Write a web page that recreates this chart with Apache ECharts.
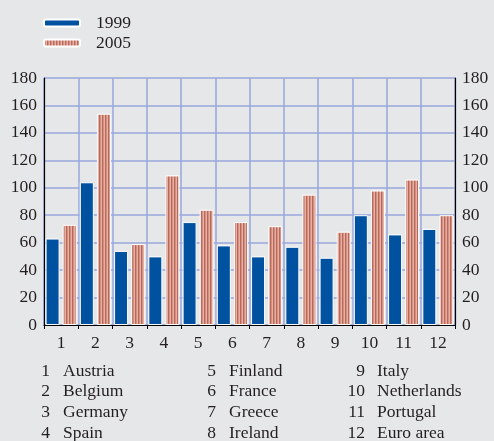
<!DOCTYPE html>
<html>
<head>
<meta charset="utf-8">
<script src="https://cdn.jsdelivr.net/npm/echarts@6/dist/echarts.min.js"></script>
<style>
  html, body { margin: 0; padding: 0; background: #e6e7e9; }
  #chart { width: 494px; height: 441px; }
</style>
</head>
<body>
<div id="chart"></div>
<script>
// Data
const categories = ['1', '2', '3', '4', '5', '6', '7', '8', '9', '10', '11', '12'];
const values1999 = [63, 104, 54, 50, 75, 58, 50, 57, 49, 80, 66, 70];
const values2005 = [73, 154, 59, 109, 84, 75, 72, 95, 68, 98, 106, 80];
const countryNames = ['Austria', 'Belgium', 'Germany', 'Spain', 'Finland', 'France',
    'Greece', 'Ireland', 'Italy', 'Netherlands', 'Portugal', 'Euro area'];
const seriesNames = ['1999', '2005'];

const FONT = '"Liberation Serif", "DejaVu Serif", serif';
const TEXT = '#231f20';
const FS = 17.5;

// vertical stripe pattern for the 2005 bars
function stripePattern() {
    const c = document.createElement('canvas');
    c.width = 3;
    c.height = 4;
    const ctx = c.getContext('2d');
    const cols = ['#b9685c', '#d4907f', '#e6b0a4'];
    cols.forEach((col, i) => {
        ctx.fillStyle = col;
        ctx.fillRect(i, 0, 1, 4);
    });
    return { image: c, repeat: 'repeat' };
}

// country key under the chart (three columns)
function buildKey() {
    const cols = [
        { numRight: 50, nameLeft: 63 },
        { numRight: 216, nameLeft: 229 },
        { numRight: 365, nameLeft: 377 }
    ];
    const items = [];
    countryNames.forEach((name, i) => {
        const col = cols[Math.floor(i / 4)];
        const y = 371 + (i % 4) * 20.8;
        items.push({
            type: 'text', x: col.numRight, y: y,
            style: { text: categories[i], font: FS + 'px ' + FONT, fill: TEXT, align: 'right', verticalAlign: 'middle' }
        });
        items.push({
            type: 'text', x: col.nameLeft, y: y,
            style: { text: name, font: FS + 'px ' + FONT, fill: TEXT, align: 'left', verticalAlign: 'middle' }
        });
    });
    return items;
}

const chart = echarts.init(document.getElementById('chart'));

const gridLine = { color: '#98a7dc', width: 1.5 };

const yAxisBase = {
    type: 'value',
    min: 0,
    max: 180,
    interval: 20,
    axisLine: { show: true, lineStyle: { color: '#000', width: 1.2 } },
    axisTick: { show: false },
    axisLabel: { color: TEXT, fontFamily: FONT, fontSize: FS, margin: 7 }
};

chart.setOption({
    backgroundColor: '#e6e7e9',
    animation: false,
    legend: {
        orient: 'vertical',
        left: 38,
        top: 9,
        itemWidth: 36,
        itemHeight: 7,
        itemGap: 2,
        textStyle: { color: TEXT, fontFamily: FONT, fontSize: FS, padding: [0, 0, 0, 11] },
        data: seriesNames
    },
    grid: { left: 44, right: 39, top: 78, bottom: 116 },
    xAxis: {
        type: 'category',
        data: categories,
        axisLine: { show: true, lineStyle: { color: '#000', width: 1.2 } },
        axisTick: { show: true, length: 4, lineStyle: { color: '#000' } },
        axisLabel: { color: TEXT, fontFamily: FONT, fontSize: FS, margin: 9 },
        splitLine: { show: true, lineStyle: gridLine }
    },
    yAxis: [
        Object.assign({}, yAxisBase, {
            position: 'left',
            splitLine: { show: true, lineStyle: gridLine }
        }),
        Object.assign({}, yAxisBase, {
            position: 'right',
            splitLine: { show: false }
        })
    ],
    series: [
        {
            name: seriesNames[0],
            type: 'bar',
            data: values1999,
            barWidth: 14,
            barGap: '22%',
            itemStyle: { color: '#0051a0', borderColor: '#ffffff', borderWidth: 1 }
        },
        {
            name: seriesNames[1],
            type: 'bar',
            data: values2005,
            barWidth: 14,
            itemStyle: { color: stripePattern(), borderColor: '#ffffff', borderWidth: 1 }
        }
    ],
    graphic: buildKey()
});
</script>
</body>
</html>
